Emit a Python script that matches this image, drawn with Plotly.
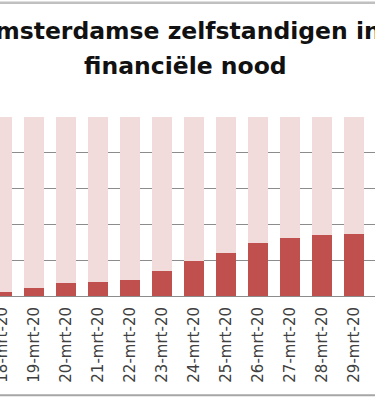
import plotly.graph_objects as go

# Data
dates = ["18-mrt-20", "19-mrt-20", "20-mrt-20", "21-mrt-20", "22-mrt-20", "23-mrt-20",
         "24-mrt-20", "25-mrt-20", "26-mrt-20", "27-mrt-20", "28-mrt-20", "29-mrt-20"]
in_nood = [2.4, 4.3, 7.0, 8.0, 8.7, 14.0, 19.5, 24.0, 29.5, 32.4, 34.0, 34.8]
overig = [100 - v for v in in_nood]

title_line1 = "Amsterdamse zelfstandigen in"
title_line2 = "financiële nood"

W, H = 375, 400
top_px, base_px = 117, 296.5
ph = base_px - top_px


def py(p):
    return (base_px - p) / ph


fig = go.Figure()
fig.add_trace(go.Bar(x=dates, y=in_nood, marker=dict(color="#C0504D", line=dict(width=0)),
                     name="in nood"))
fig.add_trace(go.Bar(x=dates, y=overig, marker=dict(color="#F2DCDB", line=dict(width=0)),
                     name="overig"))

fig.update_layout(
    width=W, height=H,
    barmode="stack", bargap=0.375,
    showlegend=False,
    paper_bgcolor="white", plot_bgcolor="white",
    margin=dict(l=0, r=0, t=top_px, b=H - base_px, pad=0, autoexpand=False),
    xaxis=dict(type="category", range=[-0.0625, 11.656], automargin=False,
               showline=True, linecolor="#8c8c8c", linewidth=1,
               showgrid=False, tickangle=-90,
               ticks="outside", ticklen=4, tickcolor="rgba(0,0,0,0)",
               tickfont=dict(family="DejaVu Sans", size=15, color="#404040")),
    yaxis=dict(range=[0, 100], dtick=20, showticklabels=False, automargin=False,
               showgrid=True, gridcolor="#8c8c8c", gridwidth=1, zeroline=False),
    annotations=[
        dict(text=title_line1, xref="paper", yref="paper", x=179 / W, y=py(31),
             xanchor="center", yanchor="middle", showarrow=False,
             font=dict(family="DejaVu Sans", size=23.5, color="#111111", weight="bold")),
        dict(text=title_line2, xref="paper", yref="paper", x=185 / W, y=py(66),
             xanchor="center", yanchor="middle", showarrow=False,
             font=dict(family="DejaVu Sans", size=23.5, color="#111111", weight="bold")),
    ],
    shapes=[
        dict(type="line", xref="paper", yref="paper", x0=-0.1, x1=1.1, y0=py(2.5), y1=py(2.5),
             line=dict(color="#c0c0c0", width=2.5)),
        dict(type="line", xref="paper", yref="paper", x0=-0.1, x1=1.1, y0=py(396), y1=py(396),
             line=dict(color="#a6a6a6", width=2)),
    ],
)

fig.write_html("out.html", config={"displayModeBar": False},
               post_script="document.body.style.margin='0';document.body.style.overflow='hidden';")
